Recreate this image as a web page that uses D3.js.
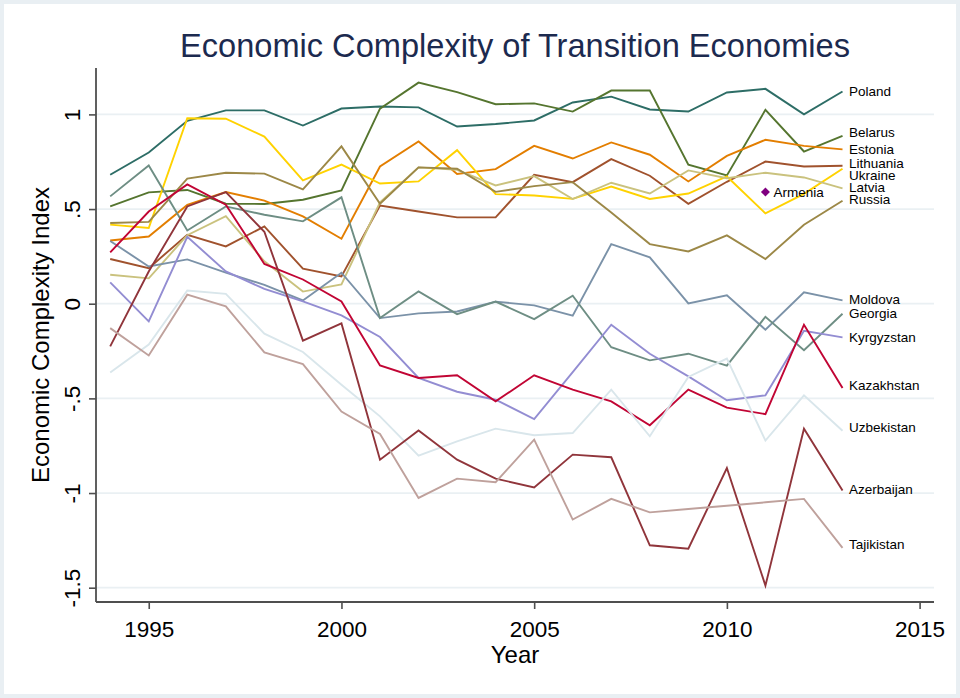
<!DOCTYPE html>
<html>
<head>
<meta charset="utf-8">
<script src="https://cdn.jsdelivr.net/npm/d3@7"></script>
<style>
  html, body { margin: 0; padding: 0; background: #ffffff; }
  svg { display: block; }
  text { font-family: "Liberation Sans", Arial, Helvetica, sans-serif; }
</style>
</head>
<body>
<svg id="chart" width="960" height="698"></svg>
<script>
// ---------------- DATA ----------------
const years = [1994, 1995, 1996, 1997, 1998, 1999, 2000, 2001, 2002, 2003,
               2004, 2005, 2006, 2007, 2008, 2009, 2010, 2011, 2012, 2013];

const countries = ["Poland", "Belarus", "Estonia", "Lithuania", "Ukraine", "Latvia", "Russia",
                   "Moldova", "Georgia", "Kyrgyzstan", "Kazakhstan", "Uzbekistan", "Azerbaijan", "Tajikistan"];

const poland     = [0.681, 0.799, 0.966, 1.021, 1.021, 0.941, 1.031, 1.042, 1.037, 0.936, 0.949, 0.968, 1.063, 1.094, 1.026, 1.015, 1.116, 1.135, 1.000, 1.121];
const belarus    = [0.514, 0.588, 0.601, 0.528, 0.527, 0.549, 0.598, 1.030, 1.168, 1.118, 1.054, 1.058, 1.015, 1.126, 1.126, 0.734, 0.678, 1.024, 0.804, 0.887];
const estonia    = [0.334, 0.355, 0.522, 0.590, 0.545, 0.461, 0.343, 0.725, 0.857, 0.685, 0.711, 0.834, 0.767, 0.852, 0.787, 0.646, 0.781, 0.866, 0.834, 0.815];
const lithuania  = [0.236, 0.188, 0.364, 0.303, 0.408, 0.185, 0.144, 0.519, 0.487, 0.456, 0.456, 0.681, 0.642, 0.764, 0.676, 0.528, 0.644, 0.751, 0.725, 0.729];
const ukraine    = [0.418, 0.400, 0.980, 0.977, 0.883, 0.651, 0.735, 0.635, 0.646, 0.811, 0.579, 0.572, 0.554, 0.619, 0.553, 0.582, 0.672, 0.477, 0.580, 0.713];
const latvia     = [0.153, 0.134, 0.362, 0.462, 0.224, 0.064, 0.102, 0.535, 0.720, 0.707, 0.625, 0.674, 0.553, 0.639, 0.582, 0.704, 0.663, 0.692, 0.667, 0.609];
const russia     = [0.426, 0.432, 0.661, 0.692, 0.687, 0.604, 0.831, 0.528, 0.720, 0.713, 0.591, 0.621, 0.642, 0.482, 0.315, 0.276, 0.361, 0.236, 0.417, 0.544];
const moldova    = [0.331, 0.197, 0.234, 0.164, 0.100, 0.017, 0.164, -0.076, -0.051, -0.041, 0.011, -0.009, -0.063, 0.315, 0.245, 0.002, 0.044, -0.137, 0.060, 0.018];
const georgia    = [0.567, 0.730, 0.387, 0.514, 0.470, 0.435, 0.562, -0.076, 0.065, -0.055, 0.011, -0.081, 0.042, -0.230, -0.299, -0.264, -0.327, -0.069, -0.246, -0.053];
const kyrgyzstan = [0.113, -0.093, 0.353, 0.171, 0.078, 0.012, -0.062, -0.176, -0.392, -0.465, -0.507, -0.609, -0.361, -0.111, -0.264, -0.384, -0.510, -0.484, -0.143, -0.178];
const kazakhstan = [0.271, 0.487, 0.630, 0.523, 0.210, 0.128, 0.012, -0.326, -0.392, -0.378, -0.516, -0.378, -0.454, -0.516, -0.642, -0.454, -0.549, -0.583, -0.111, -0.445];
const uzbekistan = [-0.363, -0.216, 0.070, 0.052, -0.158, -0.255, -0.428, -0.595, -0.802, -0.727, -0.660, -0.695, -0.683, -0.454, -0.700, -0.387, -0.290, -0.723, -0.484, -0.671];
const azerbaijan = [-0.225, 0.170, 0.514, 0.590, 0.380, -0.195, -0.104, -0.824, -0.669, -0.824, -0.924, -0.970, -0.797, -0.811, -1.276, -1.294, -0.868, -1.489, -0.660, -0.987];
const tajikistan = [-0.129, -0.273, 0.048, -0.014, -0.257, -0.319, -0.570, -0.688, -1.026, -0.924, -0.943, -0.718, -1.140, -1.031, -1.102, -1.084, -1.067, -1.049, -1.031, -1.290];

// Armenia has a single observation
const armeniaYear  = [2011];
const armeniaValue = [0.590];

// label anchor (data units) for the end-of-line country labels
const labelAt = [1.124, 0.907, 0.817, 0.743, 0.680, 0.616, 0.553, 0.024, -0.049, -0.176, -0.428, -0.651, -0.982, -1.272];

const xTicks = [1995, 2000, 2005, 2010, 2015];
const yTicks = [-1.5, -1, -0.5, 0, 0.5, 1];

const titleText = "Economic Complexity of Transition Economies";
const xTitle = "Year";
const yTitle = "Economic Complexity Index";

// ---------------- STYLE ----------------
const seriesValues = [poland, belarus, estonia, lithuania, ukraine, latvia, russia,
                      moldova, georgia, kyrgyzstan, kazakhstan, uzbekistan, azerbaijan, tajikistan];
const colors = ["#2d6d66", "#55752f", "#e37e00", "#a0522d", "#ffd200", "#cac27e", "#9c8847",
                "#7b92a8", "#6e8e84", "#938dd2", "#c10534", "#d9e6eb", "#90353b", "#bfa19c"];

const W = 960, H = 698;
const plot = { left: 96, right: 934, top: 68, bottom: 602 };

const svg = d3.select("#chart");

// outer frame
svg.append("rect").attr("x", 0).attr("y", 0).attr("width", W).attr("height", H).attr("fill", "#ffffff");
svg.append("rect").attr("x", 2).attr("y", 2).attr("width", W - 4).attr("height", H - 4)
   .attr("fill", "none").attr("stroke", "#e9eff3").attr("stroke-width", 4);

const x = d3.scaleLinear().domain([1994, 2015]).range([110.2, 919.6]);
const y = d3.scaleLinear().domain([-1.5, 1]).range([587.7, 114.4]);

// gridlines
svg.append("g").selectAll("line").data(yTicks).join("line")
  .attr("x1", plot.left).attr("x2", plot.right)
  .attr("y1", d => y(d)).attr("y2", d => y(d))
  .attr("stroke", "#eaf0f3").attr("stroke-width", 1.8);

// lines
const line = d3.line().x((d, i) => x(years[i])).y(d => y(d));
svg.append("g").selectAll("path").data(seriesValues).join("path")
  .attr("d", d => line(d))
  .attr("fill", "none")
  .attr("stroke", (d, i) => colors[i])
  .attr("stroke-width", 1.9)
  .attr("stroke-linejoin", "miter");

// end labels
svg.append("g").selectAll("text").data(countries).join("text")
  .attr("x", x(years[years.length - 1]) + 6.5)
  .attr("y", (d, i) => y(labelAt[i]))
  .attr("dy", "0.36em")
  .attr("font-size", 13.5)
  .attr("fill", "#000")
  .text(d => d);

// Armenia marker
const diamond = d3.symbol().type(d3.symbolDiamond2).size(52);
svg.append("g").selectAll("path").data(armeniaYear).join("path")
  .attr("transform", (d, i) => `translate(${x(d)},${y(armeniaValue[i])})`)
  .attr("d", diamond())
  .attr("fill", "#800080");
svg.append("g").selectAll("text").data(armeniaYear).join("text")
  .attr("x", d => x(d) + 8)
  .attr("y", (d, i) => y(armeniaValue[i]))
  .attr("dy", "0.36em")
  .attr("font-size", 13.5)
  .attr("fill", "#000")
  .text("Armenia");

// axes
const axisColor = "#4f4f4f";
const fmt = v => v === 0 ? "0" : String(v).replace("0.", ".");

const gx = svg.append("g").attr("transform", `translate(0,${plot.bottom})`)
  .call(d3.axisBottom(x).tickValues(xTicks).tickSize(7).tickFormat(d3.format("d")));
gx.select(".domain").remove();
gx.selectAll(".tick line").attr("stroke", axisColor).attr("stroke-width", 1.6);
gx.selectAll(".tick text").attr("y", 35).attr("dy", null)
  .attr("font-size", 22.5).attr("fill", "#000")
  .style("font-family", "'Liberation Sans', Arial, sans-serif");

const gy = svg.append("g").attr("transform", `translate(${plot.left},0)`)
  .call(d3.axisLeft(y).tickValues(yTicks).tickSize(7).tickFormat(fmt));
gy.select(".domain").remove();
gy.selectAll(".tick line").attr("stroke", axisColor).attr("stroke-width", 1.6);
gy.selectAll(".tick text").attr("x", null).attr("dy", null)
  .attr("transform", "translate(-16,0) rotate(-90)")
  .attr("text-anchor", "middle")
  .attr("font-size", 22.5).attr("fill", "#000")
  .style("font-family", "'Liberation Sans', Arial, sans-serif");

svg.append("line").attr("x1", plot.left).attr("x2", plot.right)
  .attr("y1", plot.bottom).attr("y2", plot.bottom)
  .attr("stroke", axisColor).attr("stroke-width", 1.8);
svg.append("line").attr("x1", plot.left).attr("x2", plot.left)
  .attr("y1", plot.top).attr("y2", plot.bottom)
  .attr("stroke", axisColor).attr("stroke-width", 1.8);

// titles
svg.append("text").attr("x", (plot.left + plot.right) / 2).attr("y", 57)
  .attr("text-anchor", "middle").attr("font-size", 32.6).attr("fill", "#1c2a4f")
  .text(titleText);
svg.append("text").attr("x", (plot.left + plot.right) / 2).attr("y", 663)
  .attr("text-anchor", "middle").attr("font-size", 24).attr("fill", "#000")
  .text(xTitle);
svg.append("text")
  .attr("transform", `translate(49,${(plot.top + plot.bottom) / 2}) rotate(-90)`)
  .attr("text-anchor", "middle").attr("font-size", 24).attr("fill", "#000")
  .text(yTitle);
</script>
</body>
</html>
